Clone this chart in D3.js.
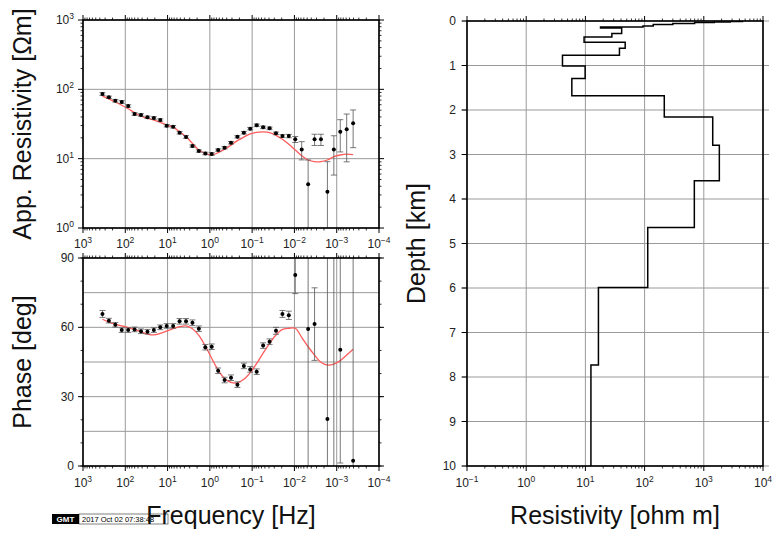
<!DOCTYPE html>
<html><head><meta charset="utf-8">
<script src="https://cdn.jsdelivr.net/npm/d3@7"></script>
<style>
body{margin:0;background:#fff}
svg{display:block}
text{font-family:"Liberation Sans",Arial,Helvetica,sans-serif}
</style>
</head><body>
<svg id="c" width="776" height="534"></svg>
<script>
// ---------- DATA ----------
const frequencies = [346.7,244.3,172.2,121.3,85.5,60.3,42.5,29.9,21.1,14.9,
  10.5,7.38,5.20,3.66,2.58,1.82,1.28,0.904,0.637,0.449,
  0.316,0.223,0.157,0.111,0.078,0.055,0.0387,0.0273,0.0192,0.0136,
  0.00955,0.00673,0.00474,0.00334,0.00236,0.00166,0.00117,0.000824,0.000581,0.000409];

const appRes = [85.7,76.8,68.5,65.7,57.5,44.1,42.7,39.5,38.6,36.1,
  29.9,28.9,23.7,20.6,15.2,12.9,11.9,11.7,13.3,14.4,
  17.0,20.7,23.7,27.1,30.3,28.3,27.4,23.2,21.2,21.2,
  19.0,13.6,4.27,19.0,19.0,3.34,13.6,24.5,26.5,32.4];

const appResErr = [4,3,3,3,2.5,2,1.8,1.6,1.6,1.5,
  1.2,1.2,1,0.9,0.6,0.5,0.5,0.5,0.5,0.6,
  0.7,0.8,1,1.1,1.3,1.2,1.2,1,1,1.2,
  1.9,4,5.3,3.5,3.5,5.7,7.8,12,17.5,18];

const appResModel = [80,73,65.6,58.9,52.5,46,41.2,38.2,36.1,33.4,
  30.6,28.3,24.5,20.7,16.6,13.3,11.9,11.3,12.2,13.7,
  15.7,18.2,20.5,22.7,24,24.3,23.7,21.7,19.0,16.1,
  13.3,11.0,9.57,9.04,9.04,9.57,10.7,11.3,11.6,11.4];

const phase = [65.8,62.9,61.1,58.8,58.8,59.1,58.3,58.1,58.8,60.0,
  60.6,60.6,62.6,62.6,62.0,59.4,51.4,51.6,41.2,37.2,
  38.2,35.2,43.3,41.8,40.8,52.1,53.8,58.5,65.8,65.2,
  82.6,null,59.3,61.4,null,20.3,-40,50.3,null,2.3];

const phaseErr = [1.5,1,1,1,1,1,1,1,1,1,
  1,1,1.2,1.2,1.2,1.2,1.2,1.2,1.2,1.2,
  1.2,1.2,1.2,1.2,1.2,1.2,1.2,1.5,1.5,1.8,
  8,null,70,15.7,null,80,150,49,null,100];

const phaseModel = [63.5,62.3,61.4,60.6,59.9,59.1,58.1,57.1,56.7,57.4,
  58.4,59.4,60.3,60.6,59.4,56.5,51.9,46.6,41.5,37.9,
  36.2,36.0,37.5,40.4,44.4,48.8,53.1,56.7,59.1,59.6,
  59.6,55.7,51.6,48.0,44.9,43.7,44.1,45.6,48.0,50.5];

// layered resistivity model: layer top depth [km] and resistivity [ohm m]
const layerTop = [0,0.01,0.02,0.035,0.055,0.08,0.11,0.135,0.16,0.28,
  0.36,0.48,0.61,0.77,1.01,1.29,1.68,2.16,2.79,3.59,4.64,5.99,7.73];
const layerRes = [4500,2800,1500,700,300,140,94,18,41,28,
  9.5,47,37.6,4.1,9.9,5.9,215,1415,1830,692,113,16.6,12.4];
const modelBottom = 10;

// tick labels
const freqTickExp = [3,2,1,0,-1,-2,-3,-4];
const rhoTickExp = [0,1,2,3];
const phaseTicks = [0,30,60,90];
const depthTicks = [0,1,2,3,4,5,6,7,8,9,10];
const resTickExp = [-1,0,1,2,3,4];

// ---------- CHART ----------
const svg = d3.select('#c');
const P1 = {x0:83, x1:379, y0:20, y1:228};
const P2 = {x0:83, x1:379, y0:258, y1:466};
const P3 = {x0:467, x1:763, y0:21, y1:466};

const fx = d3.scaleLog().domain([1e3,1e-4]).range([P1.x0,P1.x1]);
const yRho = d3.scaleLog().domain([1,1e3]).range([P1.y1,P1.y0]);
const yPh = d3.scaleLinear().domain([0,90]).range([P2.y1,P2.y0]);
const xRes = d3.scaleLog().domain([0.1,1e4]).range([P3.x0,P3.x1]);
const yDep = d3.scaleLinear().domain([0,10]).range([P3.y0,P3.y1]);

const GRID = '#9a9a9a', LBL = '#222';
const TICK_FS = 12, SUP_FS = 8.5;

function supText(g, x, y, e, anchor){
  const t = g.append('text').attr('x',x).attr('y',y).attr('fill',LBL)
    .attr('font-size',TICK_FS).attr('text-anchor',anchor);
  t.append('tspan').text('10');
  t.append('tspan').attr('dy',-5).attr('font-size',SUP_FS).text(e<0?'\u2212'+(-e):String(e));
  return t;
}

function vline(g,x,y0,y1,c,w){g.append('line').attr('x1',x).attr('x2',x).attr('y1',y0).attr('y2',y1).attr('stroke',c).attr('stroke-width',w);}
function hline(g,y,x0,x1,c,w){g.append('line').attr('y1',y).attr('y2',y).attr('x1',x0).attr('x2',x1).attr('stroke',c).attr('stroke-width',w);}

function clip(id,P){
  svg.append('clipPath').attr('id',id).append('rect')
    .attr('x',P.x0).attr('y',P.y0).attr('width',P.x1-P.x0).attr('height',P.y1-P.y0);
}
clip('c1',P1); clip('c2',P2); clip('c3',P3);

function xLogTicks(g, sc, P){
  sc.ticks().forEach(v=>{
    const isMaj = Math.abs(Math.log10(v)-Math.round(Math.log10(v)))<1e-6;
    const L = isMaj?5:2.5;
    const x = sc(v);
    vline(g,x,P.y1,P.y1+L,'#000',isMaj?1:0.8);
    vline(g,x,P.y0,P.y0-L,'#000',isMaj?1:0.8);
  });
}
function yLogTicks(g, sc, P){
  sc.ticks().forEach(v=>{
    const isMaj = Math.abs(Math.log10(v)-Math.round(Math.log10(v)))<1e-6;
    const L = isMaj?5:2.5;
    const y = sc(v);
    hline(g,y,P.x0-L,P.x0,'#000',isMaj?1:0.8);
    hline(g,y,P.x1,P.x1+L,'#000',isMaj?1:0.8);
  });
}

// ---- Panel 1: apparent resistivity ----
const g1 = svg.append('g');
freqTickExp.forEach(e=>vline(g1,fx(Math.pow(10,e)),P1.y0,P1.y1,GRID,1));
rhoTickExp.forEach(e=>hline(g1,yRho(Math.pow(10,e)),P1.x0,P1.x1,GRID,1));
const d1 = g1.append('g').attr('clip-path','url(#c1)');
d1.append('path').datum(frequencies.map((f,i)=>[f,appResModel[i]]))
  .attr('fill','none').attr('stroke','#ff5c5c').attr('stroke-width',1.3)
  .attr('d',d3.line().x(d=>fx(d[0])).y(d=>yRho(d[1])).curve(d3.curveCatmullRom));
frequencies.forEach((f,i)=>{
  const v=appRes[i], e=appResErr[i], x=fx(f);
  const yt=yRho(v+e), yb=yRho(Math.max(v-e,0.3));
  vline(d1,x,yt,yb,'#555',0.8);
  hline(d1,yt,x-3,x+3,'#555',0.8);
  hline(d1,yb,x-3,x+3,'#555',0.8);
});
d1.selectAll('circle.p').data(frequencies.map((f,i)=>[f,appRes[i]])).join('circle')
  .attr('cx',d=>fx(d[0])).attr('cy',d=>yRho(d[1])).attr('r',2).attr('fill','#000');
xLogTicks(g1,fx,P1);
yLogTicks(g1,yRho,P1);
g1.append('rect').attr('x',P1.x0).attr('y',P1.y0).attr('width',P1.x1-P1.x0).attr('height',P1.y1-P1.y0)
  .attr('fill','none').attr('stroke','#000').attr('stroke-width',1.6);
freqTickExp.forEach(e=>supText(g1,fx(Math.pow(10,e)),P1.y1+20,e,'middle'));
rhoTickExp.forEach(e=>supText(g1,P1.x0-9,yRho(Math.pow(10,e))+4,e,'end'));

// ---- Panel 2: phase ----
const g2 = svg.append('g');
freqTickExp.forEach(e=>vline(g2,fx(Math.pow(10,e)),P2.y0,P2.y1,GRID,1));
d3.range(0,91,15).forEach(p=>hline(g2,yPh(p),P2.x0,P2.x1,GRID,1));
const d2 = g2.append('g').attr('clip-path','url(#c2)');
d2.append('path').datum(frequencies.map((f,i)=>[f,phaseModel[i]]))
  .attr('fill','none').attr('stroke','#ff5c5c').attr('stroke-width',1.3)
  .attr('d',d3.line().x(d=>fx(d[0])).y(d=>yPh(d[1])).curve(d3.curveCatmullRom));
frequencies.forEach((f,i)=>{
  const v=phase[i], e=phaseErr[i];
  if(v===null) return;
  const x=fx(f), yt=yPh(v+e), yb=yPh(v-e);
  vline(d2,x,yt,yb,'#555',0.8);
  hline(d2,yt,x-3,x+3,'#555',0.8);
  hline(d2,yb,x-3,x+3,'#555',0.8);
});
d2.selectAll('circle.p').data(frequencies.map((f,i)=>[f,phase[i]]).filter(d=>d[1]!==null)).join('circle')
  .attr('cx',d=>fx(d[0])).attr('cy',d=>yPh(d[1])).attr('r',2).attr('fill','#000');
xLogTicks(g2,fx,P2);
d3.range(0,91,10).forEach(p=>{hline(g2,yPh(p),P2.x0-2.5,P2.x0,'#000',0.8);hline(g2,yPh(p),P2.x1,P2.x1+2.5,'#000',0.8);});
phaseTicks.forEach(p=>{hline(g2,yPh(p),P2.x0-5,P2.x0,'#000',1);hline(g2,yPh(p),P2.x1,P2.x1+5,'#000',1);});
g2.append('rect').attr('x',P2.x0).attr('y',P2.y0).attr('width',P2.x1-P2.x0).attr('height',P2.y1-P2.y0)
  .attr('fill','none').attr('stroke','#000').attr('stroke-width',1.6);
freqTickExp.forEach(e=>supText(g2,fx(Math.pow(10,e)),P2.y1+21,e,'middle'));
phaseTicks.forEach(p=>g2.append('text').attr('x',P2.x0-9).attr('y',yPh(p)+4).attr('text-anchor','end')
  .attr('font-size',TICK_FS).attr('fill',LBL).text(p));

// ---- Panel 3: resistivity model ----
const g3 = svg.append('g');
resTickExp.forEach(e=>vline(g3,xRes(Math.pow(10,e)),P3.y0,P3.y1,GRID,1));
depthTicks.forEach(d=>hline(g3,yDep(d),P3.x0-6,P3.x1+6,GRID,1));
const steps = [];
layerTop.forEach((t,i)=>{
  const b = i<layerTop.length-1 ? layerTop[i+1] : modelBottom;
  steps.push([layerRes[i],t]); steps.push([layerRes[i],b]);
});
g3.append('g').attr('clip-path','url(#c3)').append('path').datum(steps)
  .attr('fill','none').attr('stroke','#000').attr('stroke-width',1.5)
  .attr('d',d3.line().x(d=>xRes(d[0])).y(d=>yDep(d[1])));
xLogTicks(g3,xRes,P3);
depthTicks.forEach(d=>{hline(g3,yDep(d),P3.x0-5,P3.x0,'#000',1);});
g3.append('rect').attr('x',P3.x0).attr('y',P3.y0).attr('width',P3.x1-P3.x0).attr('height',P3.y1-P3.y0)
  .attr('fill','none').attr('stroke','#000').attr('stroke-width',1.6);
resTickExp.forEach(e=>supText(g3,xRes(Math.pow(10,e)),P3.y1+21,e,'middle'));
depthTicks.forEach(d=>g3.append('text').attr('x',P3.x0-11).attr('y',yDep(d)+4).attr('text-anchor','end')
  .attr('font-size',TICK_FS).attr('fill',LBL).text(d));

// ---- GMT time stamp ----
svg.append('rect').attr('x',52).attr('y',514).attr('width',27).attr('height',10).attr('fill','#000');
svg.append('text').attr('x',65.5).attr('y',522).attr('text-anchor','middle').attr('fill','#fff')
  .attr('font-size',8).attr('font-weight','bold').text('GMT');
svg.append('rect').attr('x',79).attr('y',514).attr('width',89).attr('height',10).attr('fill','#fff')
  .attr('stroke','#000').attr('stroke-width',0.5);
svg.append('text').attr('x',82).attr('y',522).attr('font-size',7.5).attr('fill','#000').text('2017 Oct 02 07:38:48');

// ---- Axis titles ----
const TFS = 25;
svg.append('text').attr('transform',`translate(31,${(P1.y0+P1.y1)/2}) rotate(-90)`).attr('text-anchor','middle')
  .attr('font-size',TFS).attr('fill','#111').text('App. Resistivity [\u03A9m]');
svg.append('text').attr('transform',`translate(31,${(P2.y0+P2.y1)/2}) rotate(-90)`).attr('text-anchor','middle')
  .attr('font-size',TFS).attr('fill','#111').text('Phase [deg]');
svg.append('text').attr('x',(P2.x0+P2.x1)/2).attr('y',524).attr('text-anchor','middle')
  .attr('font-size',TFS).attr('fill','#111').text('Frequency [Hz]');
svg.append('text').attr('transform',`translate(425,${(P3.y0+P3.y1)/2}) rotate(-90)`).attr('text-anchor','middle')
  .attr('font-size',TFS).attr('fill','#111').text('Depth [km]');
svg.append('text').attr('x',(P3.x0+P3.x1)/2).attr('y',524).attr('text-anchor','middle')
  .attr('font-size',TFS).attr('fill','#111').text('Resistivity [ohm m]');
</script>
</body></html>
